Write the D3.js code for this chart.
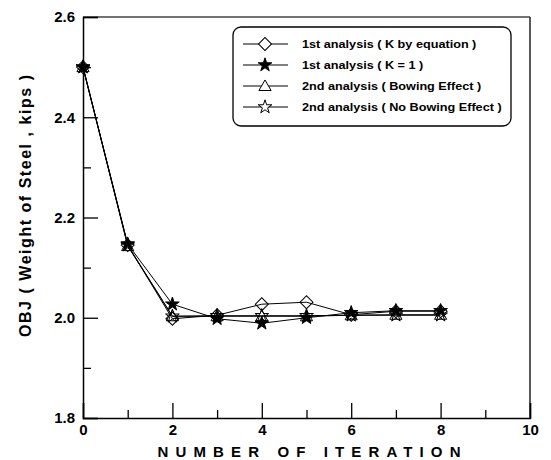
<!DOCTYPE html>
<html>
<head>
<meta charset="utf-8">
<script src="https://cdn.jsdelivr.net/npm/d3@7/dist/d3.min.js"></script>
<style>
  html, body { margin: 0; padding: 0; background: #fff; }
  svg { display: block; font-family: "Liberation Sans", Arial, sans-serif; }
</style>
</head>
<body>
<svg id="chart" width="551" height="460"></svg>
<script>
// Iteration numbers on the x axis
const iterations = [0, 1, 2, 3, 4, 5, 6, 7, 8];

// Objective (weight of steel, kips) per iteration for each analysis
const kByEquation   = [2.500, 2.145, 1.998, 2.005, 2.027, 2.031, 2.006, 2.013, 2.013];
const kEqualsOne    = [2.500, 2.147, 2.027, 1.998, 1.989, 2.000, 2.010, 2.014, 2.014];
const bowingEffect  = [2.500, 2.143, 2.003, 2.003, 2.003, 2.003, 2.005, 2.006, 2.006];
const noBowing      = [2.500, 2.145, 2.003, 2.004, 2.004, 2.004, 2.005, 2.005, 2.005];

const seriesNames = [
  "1st analysis ( K by equation )",
  "1st analysis ( K = 1 )",
  "2nd analysis ( Bowing Effect )",
  "2nd analysis ( No Bowing Effect )"
];
const seriesMarkers = ["diamond", "starFilled", "triangle", "starOpen"];

const xTickLabels = [0, 2, 4, 6, 8, 10];
const yTickLabels = ["1.8", "2.0", "2.2", "2.4", "2.6"];

const series = [kByEquation, kEqualsOne, bowingEffect, noBowing].map((vals, i) => ({
  name: seriesNames[i],
  marker: seriesMarkers[i],
  points: iterations.map((it, j) => ({ x: it, y: vals[j] }))
}));

const svg = d3.select("#chart");
const plotLeft = 83, plotRight = 530, plotTop = 17, plotBottom = 418;

const x = d3.scaleLinear().domain([0, 10]).range([plotLeft, plotRight]);
const y = d3.scaleLinear().domain([1.8, 2.6]).range([plotBottom, plotTop]);

// Marker shapes (hollow ones are unfilled outlines)
const symbolPath = {
  diamond: d3.symbol().type(d3.symbolSquare).size(84)(),
  starFilled: d3.symbol().type(d3.symbolStar).size(58)(),
  starOpen: d3.symbol().type(d3.symbolStar).size(58)(),
  triangle: d3.symbol().type(d3.symbolTriangle).size(64)()
};
function drawMarker(g, kind, cx, cy, fillBg) {
  const p = g.append("path")
    .attr("d", symbolPath[kind])
    .attr("stroke", "#000")
    .attr("stroke-width", 1);
  const hollow = fillBg ? "#fff" : "none";
  if (kind === "diamond") {
    p.attr("transform", `translate(${cx},${cy}) rotate(45)`).attr("fill", hollow);
  } else if (kind === "triangle") {
    p.attr("transform", `translate(${cx},${cy + 1})`).attr("fill", hollow);
  } else {
    p.attr("transform", `translate(${cx},${cy})`)
      .attr("fill", kind === "starFilled" ? "#000" : hollow);
  }
}

// Frame: top and right sides plain
svg.append("line").attr("x1", plotLeft).attr("x2", plotRight).attr("y1", plotTop).attr("y2", plotTop)
  .attr("stroke", "#444").attr("stroke-width", 1.3);
svg.append("line").attr("x1", plotRight).attr("x2", plotRight).attr("y1", plotTop).attr("y2", plotBottom)
  .attr("stroke", "#222").attr("stroke-width", 1.5);

// Bottom axis, ticks pointing inward
const xAxis = d3.axisBottom(x)
  .tickValues(xTickLabels).tickSize(-15).tickFormat(d3.format("d"));
const gx = svg.append("g").attr("transform", `translate(0,${plotBottom})`).call(xAxis);
gx.selectAll(".tick text").attr("y", 6).attr("dy", "0.71em");
const xMinor = d3.axisBottom(x).tickValues([1, 3, 5, 7, 9]).tickSize(-8).tickFormat("");
svg.append("g").attr("transform", `translate(0,${plotBottom})`).call(xMinor)
  .select(".domain").remove();

// Left axis, ticks pointing inward
const yAxis = d3.axisLeft(y)
  .tickValues(yTickLabels.map(Number)).tickSize(-15)
  .tickFormat((d, i) => yTickLabels[i]);
const gy = svg.append("g").attr("transform", `translate(${plotLeft},0)`).call(yAxis);
gy.selectAll(".tick text").attr("x", -8);
const yMinor = d3.axisLeft(y).tickValues([1.9, 2.1, 2.3, 2.5]).tickSize(-8).tickFormat("");
svg.append("g").attr("transform", `translate(${plotLeft},0)`).call(yMinor)
  .select(".domain").remove();

svg.selectAll(".domain").attr("stroke", "#000").attr("stroke-width", 1.5);
svg.selectAll(".tick line").attr("stroke", "#000").attr("stroke-width", 1.3);
svg.selectAll(".tick text")
  .attr("font-family", "Liberation Sans, Arial, sans-serif")
  .attr("font-size", 15).attr("font-weight", "bold").attr("fill", "#000");

// Axis titles
svg.append("text")
  .attr("x", 309).attr("y", 457)
  .attr("text-anchor", "middle")
  .attr("font-size", 15).attr("font-weight", "bold")
  .attr("textLength", 303).attr("lengthAdjust", "spacing")
  .text("NUMBER OF ITERATION");

svg.append("text")
  .attr("transform", "translate(31,206) rotate(-90)")
  .attr("text-anchor", "middle")
  .attr("font-size", 16).attr("font-weight", "bold")
  .attr("textLength", 262).attr("lengthAdjust", "spacing")
  .text("OBJ ( Weight of Steel , kips )");

// Series lines and markers
const line = d3.line().x(d => x(d.x)).y(d => y(d.y));
const plot = svg.append("g");
series.forEach(s => {
  plot.append("path")
    .attr("d", line(s.points))
    .attr("fill", "none").attr("stroke", "#000").attr("stroke-width", 1);
});
series.forEach(s => {
  const g = plot.append("g");
  s.points.forEach(p => drawMarker(g, s.marker, x(p.x), y(p.y), false));
});

// Legend (labels stretched slightly wider than the stock face)
const legend = svg.append("g");
legend.append("rect")
  .attr("x", 233).attr("y", 27).attr("width", 278).attr("height", 99)
  .attr("rx", 8).attr("ry", 8)
  .attr("fill", "#fff").attr("stroke", "#000").attr("stroke-width", 1.3);
const rowY = [44, 65, 86, 107];
series.forEach((s, i) => {
  const g = legend.append("g");
  g.append("line").attr("x1", 243).attr("x2", 288).attr("y1", rowY[i]).attr("y2", rowY[i])
    .attr("stroke", "#000").attr("stroke-width", 1);
  drawMarker(g, s.marker, 265, rowY[i], true);
  const t = g.append("text")
    .attr("x", 302).attr("y", rowY[i]).attr("dy", "0.35em")
    .attr("font-size", 11.5).attr("font-weight", "bold")
    .text(s.name);
  const w = t.node().getComputedTextLength();
  t.attr("textLength", w * 1.1).attr("lengthAdjust", "spacingAndGlyphs");
});
</script>
</body>
</html>
